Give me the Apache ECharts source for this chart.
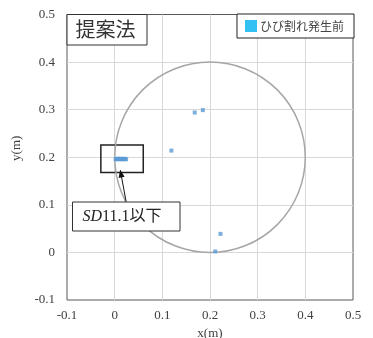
<!DOCTYPE html>
<html>
<head>
<meta charset="utf-8">
<script src="https://cdn.jsdelivr.net/npm/echarts@6/dist/echarts.min.js"></script>
<style>html,body{margin:0;padding:0;background:#fff}#c{width:373px;height:338px}</style>
</head>
<body>
<div id="c"></div>
<script>
// data
var seriesName = 'ひび割れ発生前';
var pointsX = [0.002, 0.004, 0.006, 0.008, 0.010, 0.012, 0.014, 0.016, 0.018, 0.020, 0.022, 0.024, 0.119, 0.168, 0.185, 0.222, 0.211];
var pointsY = [0.196, 0.196, 0.197, 0.196, 0.196, 0.197, 0.196, 0.196, 0.196, 0.197, 0.196, 0.196, 0.214, 0.294, 0.299, 0.039, 0.002];
var circle = [0.2, 0.2, 0.2]; // center x, center y, radius
var clusterBox = [[-0.029, 0.226], [0.060, 0.168]];
var arrowFrom = [0.024, 0.107];
var arrowTo = [0.013, 0.166];
var titleText = '提案法';
var noteText = '11.1以下';

var chart = echarts.init(document.getElementById('c'));
var serif = 'Liberation Serif';
var cjk = 'Noto Sans CJK JP';
var scatterData = pointsX.map(function (x, i) { return [x, pointsY[i]]; });

var axisCommon = {
  type: 'value', min: -0.1, max: 0.5, interval: 0.1,
  axisLine: { show: false },
  axisTick: { show: false },
  splitLine: { show: true, showMinLine: false, showMaxLine: false, lineStyle: { color: '#d9d9d9', width: 1 } },
  axisLabel: { fontFamily: serif, fontSize: 13, color: '#404040', formatter: function (v) { return String(Math.round(v * 10) / 10); } },
  nameTextStyle: { fontFamily: serif, fontSize: 13, color: '#404040' }
};

chart.setOption({
  animation: false,
  grid: { left: 67, right: 20, top: 14.5, bottom: 38, outerBoundsMode: 'none', containLabel: false, show: true, borderColor: '#595959', borderWidth: 1, backgroundColor: 'transparent' },
  xAxis: Object.assign({}, axisCommon, { name: 'x(m)', nameLocation: 'middle', nameGap: 26, axisLabel: Object.assign({}, axisCommon.axisLabel, { margin: 9 }) }),
  yAxis: Object.assign({}, axisCommon, {
    name: 'y(m)', nameLocation: 'middle', nameGap: 27,
    nameTextStyle: Object.assign({}, axisCommon.nameTextStyle, { padding: [0, 0, 0, 18] }),
    axisLabel: Object.assign({}, axisCommon.axisLabel, { margin: 12 })
  }),
  legend: {
    right: 19, top: 14, orient: 'horizontal',
    padding: [6, 10, 6, 8], itemWidth: 12, itemHeight: 12, itemGap: 5,
    backgroundColor: '#fff', borderColor: '#222', borderWidth: 1,
    textStyle: { fontFamily: cjk, fontSize: 12, color: '#444', padding: [0, 0, 0, -2] },
    data: [{ name: seriesName, icon: 'rect', itemStyle: { color: '#00B0F0' } }]
  },
  series: [
    {
      type: 'custom', name: 'circle', z: 2,
      data: [circle],
      renderItem: function (params, api) {
        var c = api.coord([api.value(0), api.value(1)]);
        var s = api.size([api.value(2), api.value(2)]);
        return { type: 'circle', shape: { cx: c[0], cy: c[1], r: (s[0] + s[1]) / 2 }, style: { fill: 'none', stroke: '#a6a6a6', lineWidth: 1.5 } };
      },
      silent: true
    },
    {
      type: 'scatter', name: seriesName, z: 3,
      symbol: 'rect', symbolSize: 4,
      itemStyle: { color: '#5B9BD5' },
      data: scatterData,
      markArea: {
        silent: true,
        itemStyle: { color: 'rgba(0,0,0,0)', borderColor: '#222', borderWidth: 1.5 },
        data: [[{ coord: clusterBox[0] }, { coord: clusterBox[1] }]]
      },
      markLine: {
        silent: true, symbol: ['none', 'triangle'], symbolSize: [6, 8],
        label: { show: false },
        lineStyle: { color: '#111', width: 1, type: 'solid' },
        data: [[{ coord: arrowFrom }, { coord: arrowTo }]]
      }
    }
  ],
  graphic: [
    { type: 'rect', z: 100, shape: { x: 67, y: 14.5, width: 80, height: 30.5 }, style: { fill: '#fff', stroke: '#333', lineWidth: 1 } },
    { type: 'text', z: 101, x: 105.5, y: 29.5, style: { text: titleText, font: '20px "Noto Sans CJK JP"', fill: '#333', align: 'center', verticalAlign: 'middle' } },
    { type: 'rect', z: 100, shape: { x: 72.5, y: 202, width: 107.5, height: 29 }, style: { fill: '#fff', stroke: '#333', lineWidth: 1 } },
    { type: 'text', z: 101, x: 122, y: 217, style: {
      text: '{i|SD}{n|' + noteText + '}', align: 'center', verticalAlign: 'middle',
      rich: {
        i: { fontFamily: serif, fontStyle: 'italic', fontSize: 16, fill: '#222' },
        n: { fontFamily: serif + ', ' + cjk, fontSize: 16, fill: '#222' }
      }
    } }
  ]
});
</script>
</body>
</html>
